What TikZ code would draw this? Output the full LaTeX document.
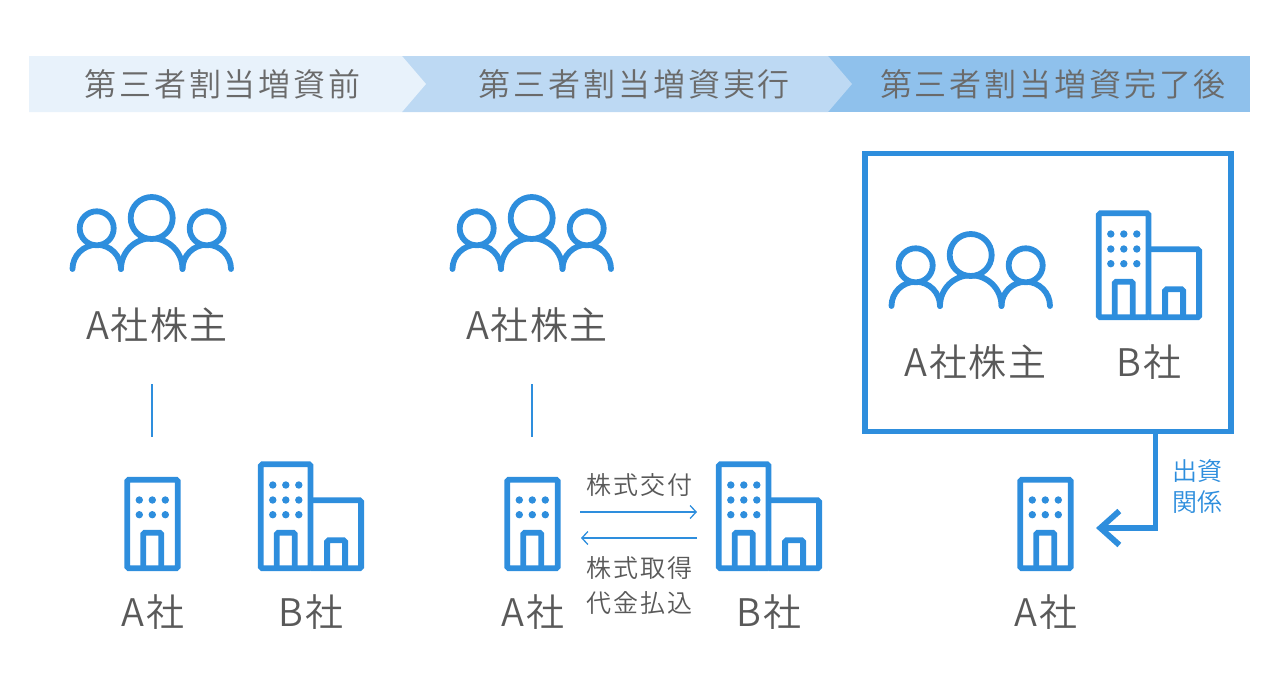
\documentclass[tikz,border=0pt]{standalone}
\usepackage{fontspec}
\setmainfont{Noto Sans CJK JP DemiLight}
\usetikzlibrary{arrows.meta,calc}
\definecolor{icon}{HTML}{2E8EDD}
\definecolor{ink}{HTML}{595959}
\definecolor{band1}{HTML}{E8F2FB}
\definecolor{band2}{HTML}{BDD9F3}
\definecolor{band3}{HTML}{8FC1EC}
\tikzset{>={Straight Barb[length=6pt,width=13pt]},
    headtext/.style={font=\fontsize{32}{34}\selectfont\addfontfeature{LetterSpace=9}, text=ink!90},
    nametext/.style={font=\fontsize{38}{40}\selectfont\addfontfeature{LetterSpace=4}, text=ink},
    smalltext/.style={font=\fontsize{25}{35}\selectfont\addfontfeature{LetterSpace=7}, text=ink, align=center},
    stroke/.style={draw=icon, line width=5.8pt, rounded corners=1.5pt},
    holders/.pic={
        \draw[stroke, line cap=round] (-79.5,0) arc[start angle=180, end angle=360, radius=24.25];
        \draw[stroke, line cap=round] (-31,0) arc[start angle=180, end angle=360, radius=30.75];
        \draw[stroke, line cap=round] (30.5,0) arc[start angle=180, end angle=360, radius=24.25];
        \draw[icon, line width=5.8pt, fill=white] (-55.3,-40.7) circle[radius=17];
        \draw[icon, line width=5.8pt, fill=white] (54.7,-40.7) circle[radius=17];
        \draw[icon, line width=5.8pt, fill=white] (-0.3,-51) circle[radius=21];
        \coordinate (-foot) at (0,115);
    },
    tower/.pic={
        \draw[stroke] (-25.2,0) rectangle (25.2,-88.6);
        \draw[stroke] (-9.2,0) -- (-9.2,-35.6) -- (8.8,-35.6) -- (8.8,0);
        \foreach \dotx in {-13.2,-0.2,12.8} {
            \foreach \doty in {-68.3,-53.6} {
                \fill[icon] (\dotx,\doty) circle[radius=3.7];
            }
        }
        \coordinate (-head) at (-0.5,-131.3);
    },
    works/.pic={
        \draw[stroke] (0,0) rectangle (49.7,-104);
        \draw[stroke] (49.7,-68) -- (100.3,-68) -- (100.3,0) -- (49.7,0);
        \draw[stroke] (16,0) -- (16,-35.6) -- (34,-35.6) -- (34,0);
        \draw[stroke] (66.3,0) -- (66.3,-28) -- (84.3,-28) -- (84.3,0);
        \foreach \dotx in {12,25,38} {
            \foreach \doty in {-83.3,-68.3,-53.6} {
                \fill[icon] (\dotx,\doty) circle[radius=3.7];
            }
        }
    }
}
\begin{document}
\begin{tikzpicture}[x=1pt,y=-1pt]
    \useasboundingbox (0,0) rectangle (1280,689);
    % bands, back to front
    \fill[band3] (828,56) -- (1250,56) -- (1250,112) -- (828,112) -- cycle;
    \fill[band2] (402,56) -- (828,56) -- (852,84) -- (828,112) -- (402,112) -- cycle;
    \fill[band1] (29,56) -- (402,56) -- (426,84) -- (402,112) -- (29,112) -- cycle;
    \node[headtext] (head1) at (222.5,84) {第三者割当増資前};
    \node[headtext] (head2) at (634.5,84) {第三者割当増資実行};
    \node[headtext] (head3) at (1053,84) {第三者割当増資完了後};

    \pic (g1) at (152,269) {holders};
    \pic (g2) at (532,269) {holders};
    \pic (g3) at (971,306) {holders};
    \pic (a1) at (152.5,568.3) {tower};
    \pic (a2) at (532.5,568.3) {tower};
    \pic (a3) at (1045.5,568.3) {tower};
    \pic (b1) at (260.8,568.3) {works};
    \pic (b2) at (718.8,568.3) {works};
    \pic (b3) at (1098.8,317.3) {works};

    \node[nametext] (n1) at (157,325) {A社株主};
    \node[nametext] (n2) at (537,325) {A社株主};
    \node[nametext] (n3) at (975.5,362) {A社株主};
    \node[nametext] (n4) at (153,612) {A社};
    \node[nametext] (n5) at (311,612) {B社};
    \node[nametext] (n6) at (533,612) {A社};
    \node[nametext] (n7) at (769,612) {B社};
    \node[nametext] (n8) at (1149,362) {B社};
    \node[nametext] (n9) at (1046,612) {A社};

    \draw[icon, line width=1.3pt] (g1-foot) -- (a1-head);
    \draw[icon, line width=1.3pt] (g2-foot) -- (a2-head);

    \coordinate (from1) at (580,512);
    \coordinate (to1) at (697,512);
    \coordinate (from2) at (697,538);
    \coordinate (to2) at (581,538);
    \draw[->, icon, line width=1.3pt] (from1) -- (to1);
    \draw[->, icon, line width=1.3pt] (from2) -- (to2);
    \node[smalltext] (t1) at (639.5,485) {株式交付};
    \node[smalltext] (t2) at (639.5,586) {株式取得\\代金払込};

    \node[draw=icon, line width=5.8pt, minimum width=366pt, minimum height=278pt, inner sep=0pt] (box3) at (1047.75,292.5) {};
    \coordinate (bend3) at (1155.5,528);
    \coordinate (tip3) at (1096,528);
    \draw[-{Straight Barb[length=19pt,width=34pt]}, icon, line width=5.8pt] (box3.south -| bend3) -- (bend3) -- (tip3);
    \node[smalltext, font=\fontsize{25}{31}\selectfont\addfontfeature{LetterSpace=3}, text=icon] (t3) at (1197.5,486.5) {出資\\関係};
\end{tikzpicture}
\end{document}
